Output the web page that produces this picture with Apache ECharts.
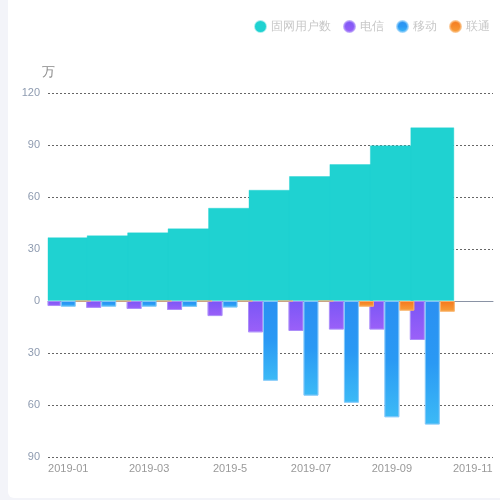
<!DOCTYPE html>
<html>
<head>
<meta charset="utf-8">
<script src="https://cdn.jsdelivr.net/npm/echarts@6/dist/echarts.min.js"></script>
<style>
html,body{margin:0;padding:0;background:#f3f4f9;width:500px;height:500px;overflow:hidden;}
#card{position:absolute;left:8px;top:-6px;width:520px;height:504px;background:#fff;border-radius:6px;}
#main{position:absolute;left:0;top:0;width:500px;height:500px;}
</style>
</head>
<body>
<div id="card"></div>
<div id="main"></div>
<script>
var categories = ['2019-01','2019-02','2019-03','2019-04','2019-5','2019-06','2019-07','2019-08','2019-09','2019-10','2019-11'];
var fixedUsers = [36.8, 37.9, 39.6, 41.9, 53.8, 64.2, 72.1, 79.0, 89.8, 100.2];
var telecom = [-2.9, -4.0, -4.6, -5.2, -8.7, -18.1, -17.3, -16.5, -16.5, -22.5];
var mobile = [-3.3, -3.3, -3.3, -3.4, -3.8, -46.0, -54.6, -58.7, -67.1, -71.3];
var unicom = [0, 0, 0, 0, 0, 0, 0, -3.3, -5.6, -6.2];
var yTicks = {min: -90, max: 120, interval: 30};

var G = echarts.graphic.LinearGradient;
var chart = echarts.init(document.getElementById('main'));
chart.setOption({
  backgroundColor: 'transparent',
  legend: {
    top: 15, right: 5,
    icon: 'circle', itemWidth: 11, itemHeight: 11, itemGap: 12,
    textStyle: {color: '#c8c8c8', fontSize: 12},
    data: ['固网用户数','电信','移动','联通']
  },
  grid: {left: 48, right: 7, top: 93, bottom: 43},
  xAxis: [{
    type: 'category', data: categories,
    axisLine: {show: false, onZero: false},
    axisTick: {show: false},
    axisLabel: {color: '#999', fontSize: 11, interval: 1, margin: 6}
  },{
    type: 'category', data: categories, position: 'bottom',
    axisLine: {show: true, onZero: true, lineStyle: {color: '#8a93a5'}},
    axisTick: {show: false}, axisLabel: {show: false}
  }],
  yAxis: {
    type: 'value', min: yTicks.min, max: yTicks.max, interval: yTicks.interval,
    name: '万', nameTextStyle: {color: '#888', fontSize: 13, padding: [0, 0, 0, 0]}, nameGap: 14,
    axisLine: {show: false}, axisTick: {show: false},
    axisLabel: {color: '#8e9bb0', fontSize: 11, margin: 8, formatter: function(v){return Math.abs(v);}},
    splitLine: {lineStyle: {color: '#666', type: [2, 2], width: 1}}
  },
  series: [{
    name: '固网用户数', type: 'bar', xAxisIndex: 0, barWidth: 44,
    itemStyle: {color: '#1fd2d1', borderColor: 'rgba(31,210,209,0.4)', borderWidth: 1},
    data: fixedUsers
  },{
    name: '电信', type: 'bar', xAxisIndex: 1, barWidth: 15, barGap: '0%',
    itemStyle: {color: new G(0,0,0,1,[{offset:0,color:'#7a56f6'},{offset:1,color:'#9b60f8'}]), borderColor: 'rgba(170,140,250,0.7)', borderWidth: 1},
    data: telecom
  },{
    name: '移动', type: 'bar', xAxisIndex: 1, barWidth: 15, barGap: '0%',
    itemStyle: {color: new G(0,0,0,1,[{offset:0,color:'#2a90f2'},{offset:0.5,color:'#2a99f4'},{offset:1,color:'#3cbaf6'}]), borderColor: 'rgba(130,200,250,0.7)', borderWidth: 1},
    data: mobile
  },{
    name: '联通', type: 'bar', xAxisIndex: 1, barWidth: 15, barGap: '0%',
    itemStyle: {color: new G(0,0,0,1,[{offset:0,color:'#f5771d'},{offset:1,color:'#f7a03a'}]), borderColor: 'rgba(250,180,110,0.7)', borderWidth: 1},
    data: unicom
  }]
});
</script>
</body>
</html>
